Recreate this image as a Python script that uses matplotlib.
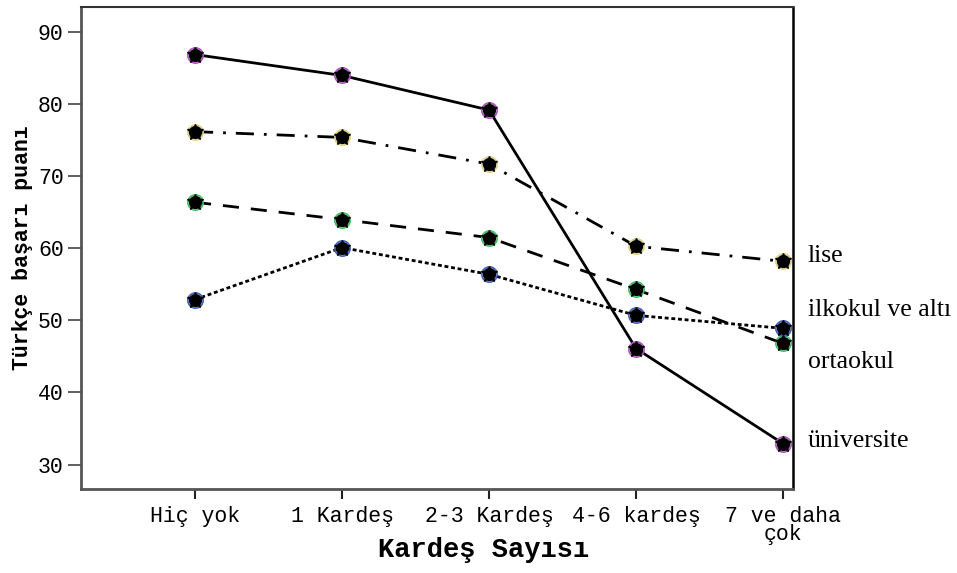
import matplotlib

matplotlib.use("Agg")
import matplotlib.pyplot as plt

# kardeş sayısı categories on the x axis
categories = ["Hiç yok", "1 Kardeş", "2-3 Kardeş", "4-6 kardeş", "7 ve daha\nçok"]

# Türkçe başarı puanı by education level
universite = [86.9, 84.0, 79.2, 46.1, 32.9]
lise = [76.2, 75.4, 71.7, 60.3, 58.2]
ortaokul = [66.4, 64.0, 61.5, 54.3, 46.8]
ilkokul = [52.9, 60.1, 56.4, 50.7, 48.9]

series_names = ["lise", "ilkokul ve altı", "ortaokul", "üniversite"]
label_y = [58.9, 51.4, 44.2, 33.3]

yticks = [30, 40, 50, 60, 70, 80, 90]

mono = ["Liberation Mono", "DejaVu Sans Mono"]
serif = ["Liberation Serif", "DejaVu Serif"]

fig = plt.figure(figsize=(9.57, 5.73), dpi=100)
ax = fig.add_axes([81 / 957, 84 / 573, 712 / 957, 482 / 573])

x = list(range(len(categories)))

styles = [
    (universite, "-", "#b050c0"),
    (lise, (0, (6.5, 3.6, 1.0, 3.6)), "#e0d080"),
    (ortaokul, (0, (5.8, 4.3)), "#40c060"),
    (ilkokul, (0, (1.4, 1.0)), "#4060c0"),
]
for vals, ls, ring in styles:
    ax.plot(x, vals, color="black", lw=2, linestyle=ls, zorder=2)
    ax.plot(x, vals, linestyle="none", marker="o", ms=11, mfc="none",
            mec=ring, mew=1.2, zorder=3)
    ax.plot(x, vals, linestyle="none", marker="o", ms=8.5, mfc="black",
            mec="black", zorder=4)
    ax.plot(x, vals, linestyle="none", marker="*", ms=12, mfc="black",
            mec="black", zorder=4)

ax.set_xlim(-0.776, 4.068)
ax.set_ylim(26.6, 93.5)
ax.set_xticks(x)
ax.set_xticklabels(categories, family=mono, fontsize=15.5, linespacing=0.85)
ax.set_yticks(yticks)
ax.set_yticklabels([str(v) for v in yticks], family=mono, fontsize=15.5)

ax.tick_params(axis="y", direction="out", length=9.5, width=1.2,
               color="#444444", pad=3)
ax.tick_params(axis="x", direction="out", length=7, width=1.5,
               color="#222222", pad=5)

for side in ["left", "bottom"]:
    ax.spines[side].set_linewidth(2)
    ax.spines[side].set_color("#555555")
ax.spines["top"].set_linewidth(1.5)
ax.spines["top"].set_color("#333333")
ax.spines["right"].set_linewidth(1.8)
ax.spines["right"].set_color("black")

ax.set_xlabel("Kardeş Sayısı", family=mono, fontsize=19.5, fontweight="bold")
ax.xaxis.set_label_coords(0.565, -0.1)
ax.set_ylabel("Türkçe başarı puanı", family=mono, fontsize=15.5,
              fontweight="bold")
ax.yaxis.set_label_coords(-0.067, 0.5)

for name, yv in zip(series_names, label_y):
    ax.text(4.17, yv, name, family=serif, fontsize=18.5, va="center",
            ha="left", clip_on=False)

fig.savefig("out.png", dpi=100)
